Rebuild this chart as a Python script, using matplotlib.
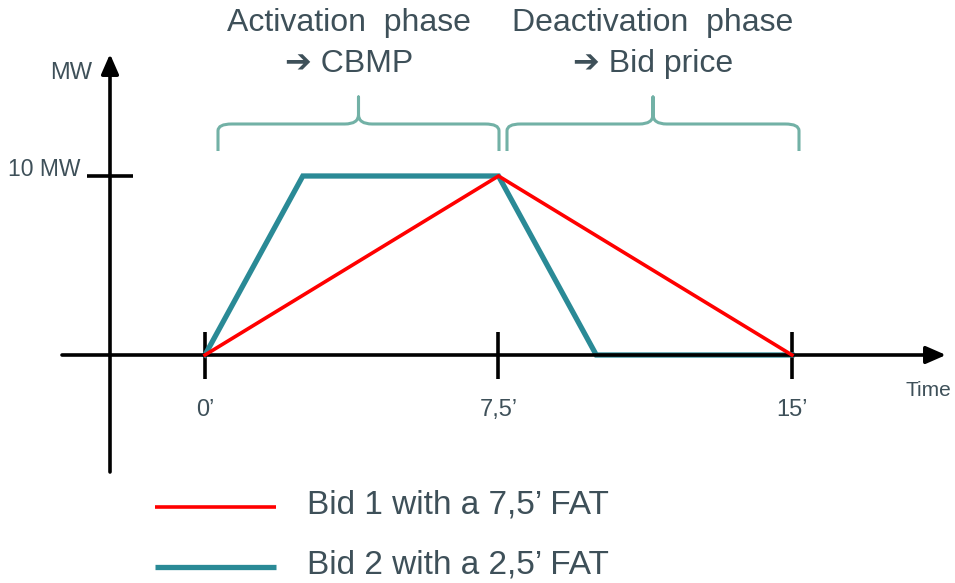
import matplotlib
matplotlib.use("Agg")
import matplotlib.pyplot as plt
from matplotlib.path import Path
from matplotlib.patches import PathPatch

plt.rcParams['font.family'] = ['Liberation Sans', 'DejaVu Sans']

# ---- data ----
bid1_time = [0, 7.5, 15]
bid1_mw = [0, 10, 0]
bid2_time = [0, 2.5, 7.5, 10, 15]
bid2_mw = [0, 10, 10, 0, 0]
xtick_pos = [0, 7.5, 15]
xtick_labels = ["0\u2019", "7,5\u2019", "15\u2019"]
ytick_pos = [10]
ytick_labels = ["10 MW"]
series_labels = ["Bid 1 with a 7,5\u2019 FAT", "Bid 2 with a 2,5\u2019 FAT"]
phase_line1 = ["Activation  phase", "Deactivation  phase"]
phase_line2 = ["\u2794 CBMP", "\u2794 Bid price"]

RED = "#ff0000"
TEAL = "#2a8a96"
BRACE = "#72b1a6"
TXT = "#3e5059"

W, H = 955, 583
fig = plt.figure(figsize=(W / 100, H / 100), dpi=100)
ax = fig.add_axes([0, 0, 1, 1])
px_per_min = 39.13
px_per_mw = 17.9
x0_px, y0_px = 205, 355
ax.set_xlim(-x0_px / px_per_min, (W - x0_px) / px_per_min)
ax.set_ylim((y0_px - H) / px_per_mw, y0_px / px_per_mw)
ax.axis("off")

def dx(px):
    return (px - x0_px) / px_per_min

def dy(py):
    return (y0_px - py) / px_per_mw

# axes
arrow_kw = dict(arrowstyle="-|>,head_length=0.8,head_width=0.35", lw=2.6, color="black",
                shrinkA=0, shrinkB=0, mutation_scale=15)
ax.annotate("", xy=(dx(946), 0), xytext=(dx(62), 0), arrowprops=arrow_kw)
ax.annotate("", xy=(dx(110), dy(54)), xytext=(dx(110), dy(472)), arrowprops=arrow_kw)

# ticks
for xp, lab in zip(xtick_pos, xtick_labels):
    ax.plot([xp, xp], [dy(332), dy(379)], color="black", lw=2.6, solid_capstyle="butt")
    ax.text(xp, dy(410), lab, ha="center", va="center", fontsize=17, color=TXT)
for yp, lab in zip(ytick_pos, ytick_labels):
    ax.plot([dx(87), dx(133)], [yp, yp], color="black", lw=2.6, solid_capstyle="butt")
    ax.text(dx(81), yp + dy(170) - dy(176), lab, ha="right", va="center", fontsize=16.5, color=TXT)

ax.text(dx(92), dy(73), "MW", ha="right", va="center", fontsize=17, color=TXT)
ax.text(dx(928), dy(390), "Time", ha="center", va="center", fontsize=15, color=TXT)

# series
ax.plot(bid1_time, bid1_mw, color=RED, lw=2.6, solid_joinstyle="miter", zorder=3)
ax.plot(bid2_time, bid2_mw, color=TEAL, lw=3.8, solid_joinstyle="miter", zorder=2)

# braces
def brace(x_left, x_right, y_bot, y_mid, y_top):
    xc = (x_left + x_right) / 2
    rx = 0.35
    ry = (y_mid - y_bot) * 0.25
    ry2 = (y_top - y_mid) * 0.35
    verts = [
        (x_left, y_bot), (x_left, y_mid - ry),
        (x_left, y_mid), (x_left + rx, y_mid),
        (xc - rx, y_mid),
        (xc, y_mid), (xc, y_mid + ry2),
        (xc, y_top),
        (xc, y_mid + ry2), (xc, y_mid), (xc + rx, y_mid),
        (x_right - rx, y_mid),
        (x_right, y_mid), (x_right, y_mid - ry),
        (x_right, y_bot),
    ]
    codes = [Path.MOVETO, Path.LINETO,
             Path.CURVE3, Path.CURVE3,
             Path.LINETO,
             Path.CURVE3, Path.CURVE3,
             Path.LINETO,
             Path.LINETO, Path.CURVE3, Path.CURVE3,
             Path.LINETO,
             Path.CURVE3, Path.CURVE3,
             Path.LINETO]
    ax.add_patch(PathPatch(Path(verts, codes), fill=False, edgecolor=BRACE, lw=2.2,
                           joinstyle="round", capstyle="butt"))

brace(dx(218), dx(499), dy(151), dy(124), dy(97))
brace(dx(507), dx(799), dy(151), dy(124), dy(97))

# phase titles
for xc, l1, l2 in zip([349, 653], phase_line1, phase_line2):
    ax.text(dx(xc), dy(23), l1, ha="center", va="center", fontsize=23, color=TXT)
    ax.text(dx(xc), dy(64), l2, ha="center", va="center", fontsize=23, color=TXT)

# legend
legend_colors = [RED, TEAL]
legend_lw = [2.6, 3.8]
legend_y = [507, 567]
for lab, c, lw, ypx in zip(series_labels, legend_colors, legend_lw, legend_y):
    ax.plot([dx(155), dx(276)], [dy(ypx), dy(ypx)], color=c, lw=lw, solid_capstyle="butt")
    ax.text(dx(307), dy(ypx - 2), lab, ha="left", va="center", fontsize=24, color=TXT)

fig.savefig("out.png", dpi=100)
